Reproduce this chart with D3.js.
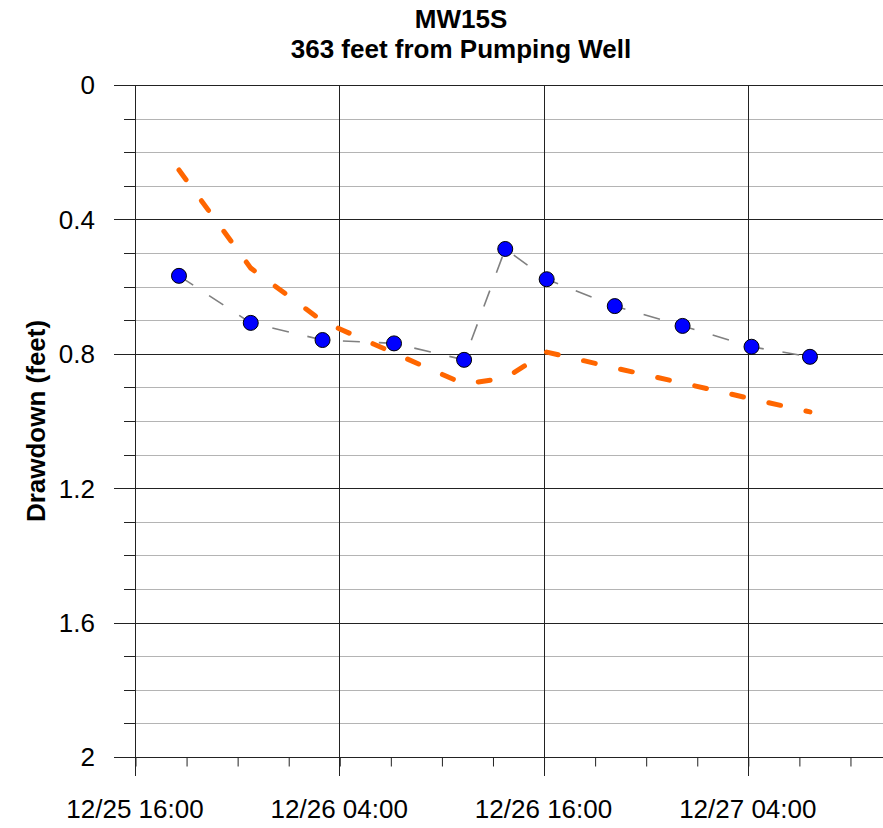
<!DOCTYPE html>
<style>
body { margin: 0; background: #fff; }
text { font-family: 'Liberation Sans', Arial, sans-serif; }
.axis .domain { display: none; }
</style>
<svg width="883" height="828"></svg>
<script src="https://d3js.org/d3.v7.min.js"></script>
<script>
// measured drawdown (blue dots)
var obsTimes = ["2009-12-25T18:35", "2009-12-25T22:48", "2009-12-26T03:01", "2009-12-26T07:13",
                "2009-12-26T11:20", "2009-12-26T13:45", "2009-12-26T16:11", "2009-12-26T20:11",
                "2009-12-27T00:10", "2009-12-27T04:13", "2009-12-27T07:39"];
var obsDrawdown = [0.568, 0.708, 0.759, 0.769, 0.818, 0.488, 0.578, 0.658, 0.717, 0.779, 0.809];
// calculated drawdown (orange dashed)
var calcDrawdown = [0.253, 0.545, 0.703, 0.798, 0.890, 0.872, 0.795, 0.842, 0.887, 0.934, 0.973];

var majorTicks = ["2009-12-25T16:00", "2009-12-26T04:00", "2009-12-26T16:00", "2009-12-27T04:00"];
var yMajor = [0, 0.4, 0.8, 1.2, 1.6, 2];
var yMinor = [0.1, 0.2, 0.3, 0.5, 0.6, 0.7, 0.9, 1.0, 1.1, 1.3, 1.4, 1.5, 1.7, 1.8, 1.9];

var parse = d3.timeParse("%Y-%m-%dT%H:%M");
var svg = d3.select("svg");

var x = d3.scaleTime()
    .domain([parse("2009-12-25T16:00"), parse("2009-12-27T12:00")])
    .range([135, 884]);
var y = d3.scaleLinear().domain([0, 2]).range([85, 757]);

// horizontal grid
svg.append("g").selectAll("line").data(yMinor).enter().append("line")
    .attr("x1", 124).attr("x2", 883)
    .attr("y1", function(d) { return Math.round(y(d)) + 0.5; })
    .attr("y2", function(d) { return Math.round(y(d)) + 0.5; })
    .attr("stroke", "#b4b4b4");
svg.append("g").selectAll("line").data(yMajor).enter().append("line")
    .attr("x1", 114).attr("x2", 883)
    .attr("y1", function(d) { return Math.round(y(d)) + 0.5; })
    .attr("y2", function(d) { return Math.round(y(d)) + 0.5; })
    .attr("stroke", "#222");
// minor y ticks dark stub
svg.append("g").selectAll("line").data(yMinor).enter().append("line")
    .attr("x1", 124).attr("x2", 135)
    .attr("y1", function(d) { return Math.round(y(d)) + 0.5; })
    .attr("y2", function(d) { return Math.round(y(d)) + 0.5; })
    .attr("stroke", "#222");

// x axis: minor ticks then major ticks / vertical grid
var minorTicks = d3.timeHour.range(x.domain()[0], x.domain()[1], 3);
svg.append("g")
    .attr("class", "axis")
    .attr("transform", "translate(0.5,757.5)")
    .call(d3.axisBottom(x).tickValues(minorTicks).tickSize(9).tickFormat(""))
    .selectAll("line").attr("stroke", "#222");

svg.append("g").selectAll("line").data(majorTicks.map(parse)).enter().append("line")
    .attr("x1", function(d) { return Math.round(x(d)) + 0.5; })
    .attr("x2", function(d) { return Math.round(x(d)) + 0.5; })
    .attr("y1", 85).attr("y2", 776)
    .attr("stroke", "#222");

svg.append("g").selectAll("text").data(majorTicks.map(parse)).enter().append("text")
    .attr("x", function(d) { return x(d); })
    .attr("y", 818)
    .attr("text-anchor", "middle")
    .attr("font-size", 26)
    .text(d3.timeFormat("%m/%d %H:%M"));

svg.append("g").selectAll("text").data(yMajor).enter().append("text")
    .attr("x", 95)
    .attr("y", function(d) { return y(d); })
    .attr("dy", "0.36em")
    .attr("text-anchor", "end")
    .attr("font-size", 26)
    .text(function(d) { return d; });

// title + y label
svg.append("text").attr("x", 461).attr("y", 28).attr("text-anchor", "middle")
    .attr("font-size", 26).attr("font-weight", "bold").text("MW15S");
svg.append("text").attr("x", 461).attr("y", 58).attr("text-anchor", "middle")
    .attr("font-size", 26).attr("font-weight", "bold").text("363 feet from Pumping Well");
svg.append("text")
    .attr("transform", "translate(45,421) rotate(-90)")
    .attr("text-anchor", "middle")
    .attr("font-size", 26).attr("font-weight", "bold")
    .text("Drawdown (feet)");

// series
var obs = obsTimes.map(function(t, i) { return {t: parse(t), v: obsDrawdown[i], c: calcDrawdown[i]}; });

svg.append("path")
    .datum(obs)
    .attr("fill", "none")
    .attr("stroke", "#808080")
    .attr("stroke-width", 1.6)
    .attr("stroke-dasharray", "17,19")
    .attr("d", d3.line().x(function(d) { return x(d.t); }).y(function(d) { return y(d.v); }));

svg.append("path")
    .datum(obs)
    .attr("fill", "none")
    .attr("stroke", "#ff6600")
    .attr("stroke-width", 5)
    .attr("stroke-linecap", "round")
    .attr("stroke-dasharray", "12,26")
    .attr("d", d3.line().x(function(d) { return x(d.t); }).y(function(d) { return y(d.c); }));

svg.append("g").selectAll("circle").data(obs).enter().append("circle")
    .attr("cx", function(d) { return x(d.t); })
    .attr("cy", function(d) { return y(d.v); })
    .attr("r", 7.5)
    .attr("fill", "#0000ff")
    .attr("stroke", "#000")
    .attr("stroke-width", 1);
</script>
